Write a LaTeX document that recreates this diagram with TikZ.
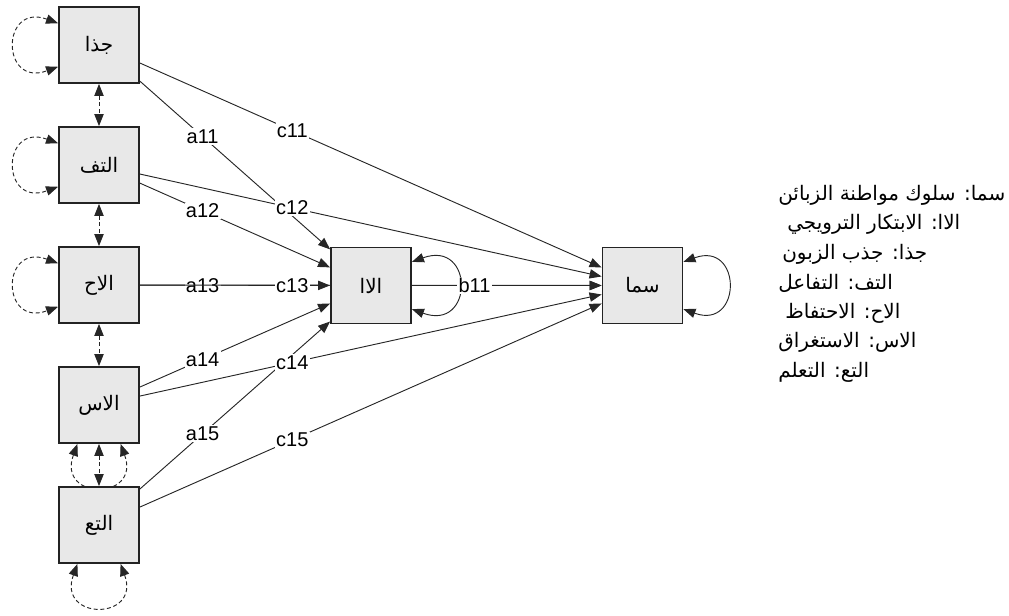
\documentclass[tikz,border=0pt]{standalone}
\usepackage{fontspec}
\setmainfont{Liberation Sans}
\newfontfamily\arabicfont[Script=Arabic]{DejaVu Sans}
\TeXXeTstate=1
\usetikzlibrary{arrows.meta,backgrounds}
\definecolor{boxgray}{RGB}{232,232,232}
\definecolor{edgegray}{RGB}{35,35,35}

\begin{document}
\begin{tikzpicture}[x=0.75pt,y=0.75pt,>={Triangle[length=9pt,width=7pt]},
  var/.style={draw=edgegray,line width=1.4pt,fill=boxgray,minimum width=60pt,
    minimum height=57pt,inner sep=0pt,font=\arabicfont\fontsize{15}{17}\selectfont},
  reg/.style={->,line width=0.7pt,draw=black!85},
  cov/.style={<->,line width=0.7pt,draw=black!85,dash pattern=on 3pt off 2pt},
  selfloop/.style={<->,line width=0.7pt,draw=black!85,looseness=3.6},
  errloop/.style={selfloop,dash pattern=on 3pt off 2pt},
  coef/.style={fill=white,inner sep=1pt,pos=0.33,font=\fontsize{15}{17}\selectfont},
  legend/.style={anchor=west,inner sep=0pt,font=\arabicfont\fontsize{15}{18}\selectfont}]
  \useasboundingbox (0,0) rectangle (1009,-615);

  % predictors
  \node[var] (jatha) at (99,-45) {\beginR جذا\endR};
  \node[var] (taf) at (99,-165) {\beginR التف\endR};
  \node[var] (ah) at (99,-285) {\beginR الاح\endR};
  \node[var] (ass) at (99,-405) {\beginR الاس\endR};
  \node[var] (taa) at (99,-525) {\beginR التع\endR};
  % mediator and outcome
  \node[var] (ala) at (371,-285.5) {\beginR الاا\endR};
  \node[var] (sama) at (642.5,-285.5) {\beginR سما\endR};

  \begin{scope}[on background layer]
    % covariances between neighbours
    \draw[cov] (jatha) -- (taf);
    \draw[cov] (taf) -- (ah);
    \draw[cov] (ah) -- (ass);
    \draw[cov] (ass) -- (taa);
    % variances
    \draw[errloop] (jatha.152) to[out=160,in=200] (jatha.208);
    \draw[errloop] (taf.152) to[out=160,in=200] (taf.208);
    \draw[errloop] (ah.152) to[out=160,in=200] (ah.208);
    \draw[errloop] (ass.241) to[out=250,in=290] (ass.299);
    \draw[errloop] (taa.241) to[out=250,in=290] (taa.299);
    \draw[selfloop] (ala.30) to[out=20,in=-20] (ala.-30);
    \draw[selfloop,looseness=3.4] (sama.30) to[out=20,in=-20] (sama.-30);
    % paths to the mediator
    \draw[reg] (jatha) -- node[coef] {a11} (ala);
    \draw[reg] (taf) -- node[coef] {a12} (ala);
    \draw[reg] (ah) -- node[coef] {a13} (ala);
    \draw[reg] (ass) -- node[coef] {a14} (ala);
    \draw[reg] (taa) -- node[coef] {a15} (ala);
    % direct paths to the outcome
    \draw[reg] (jatha) -- node[coef] {c11} (sama);
    \draw[reg] (taf) -- node[coef] {c12} (sama);
    \draw[reg] (ah) -- node[coef] {c13} (sama);
    \draw[reg] (ass) -- node[coef] {c14} (sama);
    \draw[reg] (taa) -- node[coef] {c15} (sama);
    \draw[reg] (ala) -- node[coef] {b11} (sama);
  \end{scope}

  % key
  \foreach \i/\dx/\txt in {
      1/778/{سما: سلوك مواطنة الزبائن},
      2/787/{الاا: الابتكار الترويجي},
      3/782/{جذا: جذب الزبون},
      4/778/{التف: التفاعل},
      5/785/{الاح: الاحتفاظ},
      6/778/{الاس: الاستغراق},
      7/778/{التع: التعلم}}
    \node[legend] (leg\i) at (\dx,{-195-29.5*(\i-1)}) {\beginR\txt\endR};
\end{tikzpicture}
\end{document}
